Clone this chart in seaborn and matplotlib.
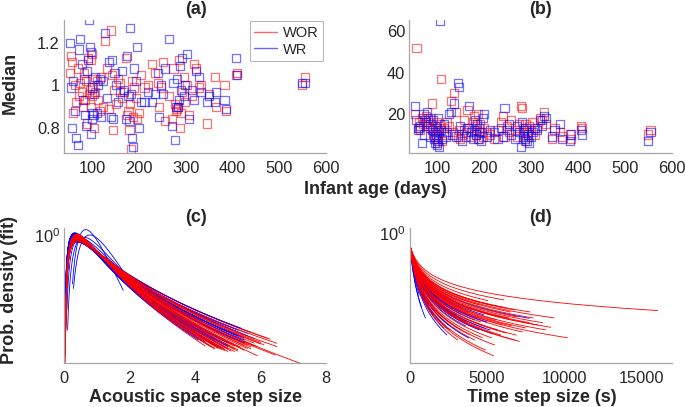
import numpy as np
import pandas as pd
import matplotlib
matplotlib.use('Agg')
import matplotlib.pyplot as plt
from matplotlib.lines import Line2D
from matplotlib.ticker import LogLocator, NullFormatter
import seaborn as sns

# ~~~~~~~~~~~~~ (a), (b): per-recording medians vs infant age ~~~~~~~~~~~~~
ages = [52, 55, 58, 60, 63, 66, 70, 72, 75,
        78, 80, 83, 85, 88, 90, 92, 94, 95, 97, 98, 99,
        100, 101, 103, 105, 107, 110, 113, 117, 120, 124, 128,
        132, 136, 140, 143, 145, 148, 152, 156, 160,
        164, 168, 172, 175, 178, 180, 182, 184, 186, 188, 190, 193, 197, 200,
        205, 212, 220, 228, 235, 240, 243, 248, 252, 256,
        265, 270, 274, 278, 280, 282, 284, 286, 288, 290, 293, 296, 299,
        303, 308, 313, 318, 323, 328, 332,
        345, 350, 362, 365, 383, 386, 407, 409,
        549, 555]

a_wor = [1.06, 1.14, 1.11, 0.87, 1.00, 0.92, 1.08, 0.95, 1.01,
         0.97, 0.90, 1.06, 0.93, 1.02, 0.82, 1.13, 0.96, 0.98, 1.12, 0.90, 0.95,
         1.15, 0.99, 1.03, 0.80, 0.97, 1.02, 0.93, 0.88, 1.04, 0.90, 1.21,
         1.08, 0.89, 1.26, 1.05, 0.79, 0.98, 0.91, 1.03, 1.01,
         0.94, 0.97, 1.13, 0.86, 0.88, 0.79, 0.91, 0.70, 1.02, 0.85, 0.99, 0.94, 0.84, 0.87,
         1.05, 0.99, 1.00, 1.10, 1.06, 1.01, 0.90, 0.99, 1.11, 0.83,
         0.95, 0.84, 1.08, 0.91, 0.88, 0.89, 0.90, 1.12, 0.80, 0.87, 0.97, 1.04, 0.92,
         1.00, 0.86, 0.95, 1.10, 1.08, 0.99, 1.00,
         0.82, 0.96, 1.04, 0.90, 1.00, 0.88, 1.05, 1.06,
         1.00, 1.04]
a_wr = [1.20, 0.99, 0.80, 1.02, 0.88, 0.75, 0.72, 1.17, 1.22,
        1.10, 0.93, 1.03, 0.86, 0.81, 1.07, 1.12, 1.31, 1.18, 0.77, 1.16, 0.84,
        0.99, 0.87, 0.86, 0.96, 1.04, 0.87, 1.00, 1.03, 0.85, 1.02, 1.25,
        0.94, 1.11, 0.85, 1.12, 0.84, 1.06, 1.00, 0.92, 0.97,
        1.07, 0.98, 0.84, 1.14, 0.95, 0.83, 1.27, 0.96, 0.75, 0.71, 1.08, 1.02, 1.18, 0.80,
        0.92, 0.92, 0.97, 0.92, 0.96, 1.06, 0.85, 1.00, 0.96, 1.08,
        1.22, 0.81, 1.01, 0.74, 0.90, 1.03, 0.90, 0.93, 1.09, 0.98, 1.13, 0.95, 1.00,
        1.15, 0.84, 0.98, 0.93, 1.07, 1.04, 0.97,
        0.92, 0.95, 0.92, 0.97, 0.93, 0.89, 1.13, 1.05,
        1.01, 1.01]

b_wor = [20, 52, 13, 16, 12, 18, 15, 17, 19,
         14, 16, 13, 18, 25, 12, 10, 9, 14, 8, 16, 6,
         12, 9, 11, 15, 37, 7, 13, 10, 16, 14, 26,
         11, 30, 21, 9, 12, 8, 10, 17, 11,
         22, 13, 9, 16, 19, 14, 10, 12, 20, 8, 15, 11, 9, 13,
         11, 10, 8, 12, 16, 19, 9, 14, 11, 17,
         12, 9, 15, 24, 23, 13, 10, 7, 15, 11, 9, 14, 12,
         16, 10, 13, 18, 17, 21, 15,
         8, 13, 11, 9, 10, 8, 14, 13,
         10, 12]
b_wr = [24, 17, 12, 13, 14, 6, 20, 10, 16,
        21, 18, 9, 15, 12, 17, 8, 6, 11, 10, 5, 13,
        18, 7, 4, 65, 12, 8, 15, 9, 11, 20, 21,
        10, 25, 9, 35, 33, 14, 7, 12, 9,
        13, 24, 11, 8, 12, 17, 10, 15, 8, 13, 11, 7, 18, 20,
        9, 12, 11, 8, 13, 9, 23, 12, 15, 10,
        8, 14, 11, 4, 16, 9, 12, 8, 13, 7, 10, 6, 9,
        11, 13, 12, 17, 14, 19, 18,
        9, 12, 15, 8, 7, 10, 12, 10,
        7, 11]

# ~~~~~~~~~~~~~ (c): lognormal fits of acoustic step size, one per recording ~~~~~~~~~~~~~
c_wor_mu = [-0.30, -0.20, -0.15, -0.35, -0.25, -0.42, -0.22, -0.38, -0.10, -0.33,
            -0.20, -0.30, -0.38, -0.18, -0.36, -0.40, -0.22, -0.27, -0.12, -0.36,
            -0.32, -0.39, -0.24, -0.16, -0.42, -0.29, -0.35, -0.21, -0.37, -0.26,
            -0.40, -0.14, -0.31, -0.37, -0.23, -0.38, -0.19, -0.34, -0.28, -0.36]
c_wor_sigma = [0.80, 0.90, 0.84, 0.78, 0.82, 0.76, 0.84, 0.77, 0.90, 0.79,
               0.83, 0.87, 0.76, 0.84, 0.78, 0.75, 0.82, 0.80, 0.91, 0.77,
               0.79, 0.75, 0.81, 0.85, 0.74, 0.80, 0.78, 0.83, 0.76, 0.81,
               0.75, 0.85, 0.79, 0.77, 0.82, 0.76, 0.93, 0.78, 0.80, 0.76]
c_wor_x0 = [0.04, 0.05, 0.06, 0.035, 0.045, 0.03, 0.04, 0.035, 0.07, 0.04,
            0.05, 0.035, 0.03, 0.06, 0.04, 0.03, 0.05, 0.045, 0.065, 0.035,
            0.04, 0.03, 0.05, 0.06, 0.025, 0.045, 0.04, 0.055, 0.035, 0.05,
            0.03, 0.065, 0.04, 0.035, 0.05, 0.03, 0.055, 0.04, 0.045, 0.035]
c_wor_xend = [5.2, 6.5, 6.0, 5.0, 5.5, 4.6, 7.4, 4.8, 6.3, 5.3,
              5.9, 6.45, 4.7, 5.8, 5.1, 4.5, 5.6, 5.4, 6.2, 4.9,
              5.2, 4.6, 5.7, 6.1, 4.3, 5.5, 5.0, 5.8, 4.8, 5.6,
              4.4, 6.0, 5.3, 5.0, 5.7, 4.7, 6.5, 5.2, 5.9, 4.9]

c_wr_mu = [-0.46, -0.20, -0.48, -0.15, -0.40, -0.50, -0.30, -0.44, -0.25, -0.35,
           -0.46, -0.10, -0.42, -0.28, -0.50, -0.22, -0.44, -0.38, -0.18, -0.48,
           -0.33, -0.45, -0.12, -0.40, -0.50, -0.26, -0.36, -0.47, -0.30, -0.42,
           -0.20, -0.34, -0.44, -0.48, -0.24, -0.40, -0.25, -0.05, -0.15, -0.20]
c_wr_sigma = [0.86, 0.90, 0.82, 0.87, 0.86, 0.80, 0.92, 0.83, 0.89, 0.74,
              0.84, 0.90, 0.87, 0.80, 0.81, 0.94, 0.87, 0.77, 0.92, 0.83,
              0.88, 0.81, 0.92, 0.83, 0.79, 0.89, 0.90, 0.81, 0.86, 0.77,
              0.85, 0.92, 0.84, 0.85, 0.88, 0.80, 0.42, 0.45, 0.60, 0.70]
c_wr_x0 = [0.04, 0.05, 0.035, 0.055, 0.045, 0.035, 0.05, 0.04, 0.05, 0.045,
           0.04, 0.06, 0.045, 0.05, 0.035, 0.055, 0.04, 0.045, 0.055, 0.035,
           0.045, 0.04, 0.06, 0.045, 0.035, 0.05, 0.05, 0.04, 0.05, 0.045,
           0.055, 0.05, 0.04, 0.035, 0.05, 0.045, 0.25, 0.28, 0.10, 0.08]
c_wr_xend = [5.0, 5.6, 4.5, 5.8, 5.2, 4.2, 5.5, 4.6, 5.4, 3.8,
             4.6, 5.7, 5.1, 4.9, 4.0, 5.3, 5.0, 4.7, 5.6, 4.4,
             5.2, 4.8, 5.4, 5.0, 4.1, 5.3, 5.5, 4.6, 5.1, 4.3,
             4.9, 5.5, 5.0, 4.5, 5.2, 3.6, 1.8, 2.0, 2.8, 2.5]

# ~~~~~~~~~~~~~ (d): power-law fits of time step size, p(t) = d_start * (1 + t/d_scale)^-alpha ~~~~~~~~~~~~~
d_start = 0.12
d_scale = 250
d_wor_xend = [16080, 9355, 9140, 8600, 10210, 7100, 6770, 5420, 5050, 4690,
              6240, 7740, 5800, 6500, 6000, 5600, 4800, 4400, 3900, 3600,
              7300, 8000, 6800, 5200, 3000, 4200, 5900, 2500, 4000, 6600,
              7000, 5500, 3300, 4600, 6200, 5700, 3800, 8800, 4900, 7500,
              2000, 2800, 3400, 4300, 5100, 6400, 6900, 7800, 3100, 4500,
              5300, 2200, 6100, 3700, 8300]
d_wor_alpha = [2.78, 3.54, 4.02, 3.86, 4.40, 5.05, 3.45, 6.28, 3.23, 5.50,
               4.79, 3.97, 3.99, 3.60, 4.40, 4.21, 4.89, 4.42, 5.67, 4.99,
               4.52, 3.70, 5.04, 3.45, 4.83, 5.85, 4.98, 5.91, 4.06, 4.33,
               3.79, 5.65, 5.68, 4.60, 3.43, 4.75, 4.26, 4.19, 6.15, 4.28,
               5.89, 3.90, 4.17, 5.06, 3.99, 3.94, 4.76, 3.42, 6.49, 3.61,
               5.31, 4.66, 3.01, 4.94, 4.01]
d_wr_xend = [7740, 5380, 2580, 750, 4070, 1500, 2000, 3000, 3500, 4500,
             1200, 2400, 5000, 3800, 2800, 900, 4200, 3300, 1800, 5200,
             2200, 600, 3600, 4800, 1000]
d_wr_alpha = [3.75, 5.06, 6.21, 7.96, 5.08, 6.37, 6.21, 5.66, 4.91, 5.11,
              6.05, 6.75, 4.48, 5.91, 4.96, 6.38, 4.62, 4.61, 5.64, 4.89,
              6.44, 7.25, 5.24, 4.12, 8.04]

colors = {'WOR': 'red', 'WR': 'blue'}


def lognormal_curves(mu, sigma, x0, xend):
    rows = []
    for i in range(len(mu)):
        x = np.geomspace(x0[i], xend[i], 300)
        y = np.exp(-(np.log(x) - mu[i])**2 / (2 * sigma[i]**2)) / (x * sigma[i] * np.sqrt(2 * np.pi))
        rows.append(pd.DataFrame({'x': x, 'y': y, 'curve': i}))
    return pd.concat(rows, ignore_index=True)


def powerlaw_curves(alpha, xend):
    rows = []
    for i in range(len(alpha)):
        x = np.concatenate([[0], np.geomspace(1, xend[i], 300)])
        y = d_start * (1 + x / d_scale)**(-alpha[i])
        rows.append(pd.DataFrame({'x': x, 'y': y, 'curve': i}))
    return pd.concat(rows, ignore_index=True)


def style(ax):
    for s in ['top', 'right']:
        ax.spines[s].set_visible(False)
    for s in ['left', 'bottom']:
        ax.spines[s].set_color('#a6a6a6')
        ax.spines[s].set_linewidth(0.9)
    ax.tick_params(direction='in', length=3, width=0.8, color='#a6a6a6',
                   labelsize=11.8, labelcolor='#262626')
    ax.tick_params(axis='x', pad=6)
    ax.tick_params(axis='y', pad=3)
    ax.set_xlabel('')
    ax.set_ylabel('')


def draw_curves(ax, df, name):
    sns.lineplot(data=df, x='x', y='y', units='curve', estimator=None, sort=False,
                 color=colors[name], lw=0.6, ax=ax, legend=False)


sns.set_style('white')
plt.rcParams['font.family'] = ['Liberation Sans', 'DejaVu Sans']
plt.rcParams['mathtext.fontset'] = 'custom'
plt.rcParams['mathtext.rm'] = 'Liberation Sans'

fig = plt.figure(figsize=(6.85, 4.07), dpi=100)
ax_a = fig.add_axes([0.0934, 0.624, 0.3825, 0.327])
ax_b = fig.add_axes([0.5978, 0.624, 0.3825, 0.327])
ax_c = fig.add_axes([0.0939, 0.108, 0.382, 0.332])
ax_d = fig.add_axes([0.5985, 0.108, 0.3825, 0.332])

# scatter panels
for ax, wor, wr in [(ax_a, a_wor, a_wr), (ax_b, b_wor, b_wr)]:
    for vals, name in [(wor, 'WOR'), (wr, 'WR')]:
        sns.scatterplot(x=ages, y=vals, ax=ax, marker='s', s=34, color=colors[name],
                        facecolor='none', edgecolor=colors[name], linewidth=0.9, alpha=0.55)
    ax.set_xlim(40, 600)
    ax.set_xticks([100, 200, 300, 400, 500, 600])
    style(ax)

ax_a.set_ylim(0.68, 1.31)
ax_a.set_yticks([0.8, 1.0, 1.2])
ax_a.set_yticklabels(['0.8', '1', '1.2'])
ax_b.set_ylim(1, 65.5)
ax_b.set_yticks([20, 40, 60])

handles = [Line2D([0], [0], color='red', lw=1, alpha=0.6), Line2D([0], [0], color='blue', lw=1, alpha=0.6)]
leg = ax_a.legend(handles, ['WOR', 'WR'], loc='upper right', bbox_to_anchor=(0.99, 0.99),
                  borderaxespad=0, fontsize=10.5, frameon=True, fancybox=False,
                  handlelength=1.6, handletextpad=0.4, borderpad=0.3, labelspacing=0.2)
leg.get_frame().set_edgecolor('#a6a6a6')
leg.get_frame().set_linewidth(0.8)

# (c) lognormal fits, the two groups drawn in interleaved halves
c_wr = lognormal_curves(c_wr_mu, c_wr_sigma, c_wr_x0, c_wr_xend)
c_wor = lognormal_curves(c_wor_mu, c_wor_sigma, c_wor_x0, c_wor_xend)
draw_curves(ax_c, c_wr[c_wr['curve'] < 20], 'WR')
draw_curves(ax_c, c_wor[c_wor['curve'] < 20], 'WOR')
draw_curves(ax_c, c_wr[c_wr['curve'] >= 20], 'WR')
draw_curves(ax_c, c_wor[c_wor['curve'] >= 20], 'WOR')
ax_c.set_yscale('log')
ax_c.set_xlim(0, 8)
ax_c.set_ylim(10**-2.66, 10**0.16)
ax_c.set_xticks([0, 2, 4, 6, 8])
ax_c.set_yticks([0.1, 1])
ax_c.set_yticklabels(['', r'$\mathregular{10^0}$'])
ax_c.yaxis.set_minor_locator(LogLocator(subs=[]))
ax_c.yaxis.set_minor_formatter(NullFormatter())
style(ax_c)

# (d) power-law fits
d_wr = powerlaw_curves(d_wr_alpha, d_wr_xend)
d_wor = powerlaw_curves(d_wor_alpha, d_wor_xend)
draw_curves(ax_d, d_wr[d_wr['curve'] < 12], 'WR')
draw_curves(ax_d, d_wor[d_wor['curve'] < 28], 'WOR')
draw_curves(ax_d, d_wr[d_wr['curve'] >= 12], 'WR')
draw_curves(ax_d, d_wor[d_wor['curve'] >= 28], 'WOR')
ax_d.set_yscale('log')
ax_d.set_xlim(0, 17000)
ax_d.set_ylim(1e-10, 10**0.38)
ax_d.set_xticks([0, 5000, 10000, 15000])
decades = 10.0**np.arange(-10, 1)
ax_d.set_yticks(decades)
ax_d.set_yticklabels([''] * (len(decades) - 1) + [r'$\mathregular{10^0}$'])
ax_d.yaxis.set_minor_locator(LogLocator(base=10, subs=np.arange(2, 10) * 1.0, numticks=200))
ax_d.yaxis.set_minor_formatter(NullFormatter())
style(ax_d)
ax_d.tick_params(axis='y', which='minor', direction='in', length=2, width=0.7, color='#999999')

# panel letters and axis labels
fs = 13
txt = dict(ha='center', va='center', fontsize=fs, fontweight='bold', color='#262626')
fig.text(196 / 685, 1 - 9 / 407, '(a)', **txt)
fig.text(541 / 685, 1 - 9 / 407, '(b)', **txt)
fig.text(196 / 685, 1 - 217 / 407, '(c)', **txt)
fig.text(541 / 685, 1 - 218 / 407, '(d)', **txt)
fig.text(375 / 685, 1 - 189 / 407, 'Infant age (days)', **txt)
fig.text(196 / 685, 1 - 397 / 407, 'Acoustic space step size', **txt)
fig.text(542 / 685, 1 - 397 / 407, 'Time step size (s)', **txt)
fig.text(10 / 685, 1 - 83 / 407, 'Median', rotation=90, **txt)
fig.text(10 / 685, 1 - 290 / 407, 'Prob. density (fit)', rotation=90, **txt)

fig.savefig('out.png', dpi=100)
